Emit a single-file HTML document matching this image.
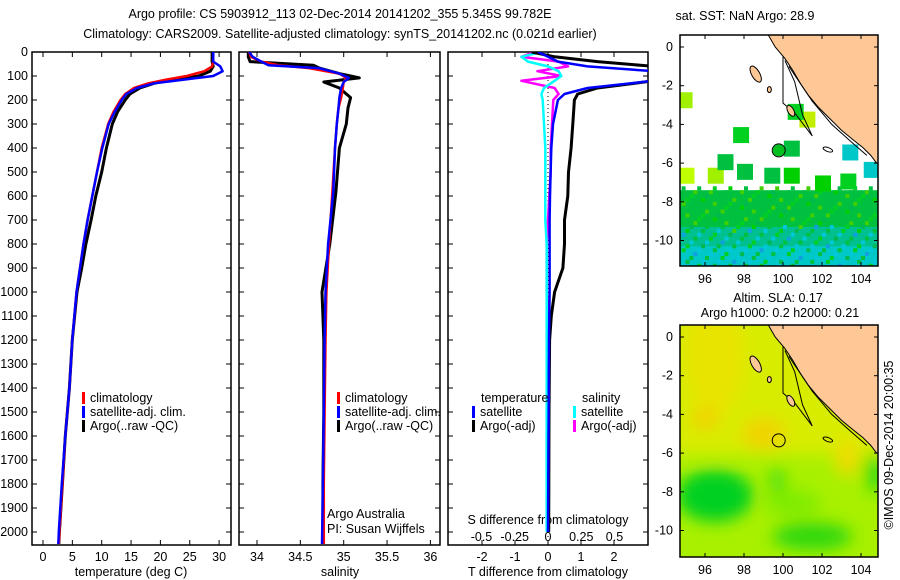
<!DOCTYPE html>
<html><head><meta charset="utf-8"><style>
body{margin:0;background:#fff;}
svg{display:block;font-family:"Liberation Sans",sans-serif;}
text{font-size:12.5px;fill:#000;}
</style></head><body>
<svg id="c" width="900" height="580" viewBox="0 0 900 580"></svg>
<script>
// ---- data ----
const tDepth=[0,40,60,80,100,115,130,150,175,200,250,300,400,500,600,700,800,900,1000,1200,1400,1600,1800,2000,2050];
const tClim=[29,29,28.8,27.5,24.5,21,18,15.5,14,13.2,12,11.1,10,9.2,8.4,7.6,6.9,6.3,5.7,5,4.5,3.8,3.3,2.8,2.7];
const tSat=[29,29,30.2,30.6,29,24,19,16,14.2,13.4,12.2,11.2,10.1,9.2,8.4,7.6,6.9,6.3,5.7,5,4.5,3.8,3.2,2.7,2.6];
const tArgo=[28.8,28.8,29,28.5,26.5,22,19,16.5,14.8,14,12.7,11.8,10.8,10,9,8.2,7.3,6.6,5.8,5,4.5,3.8,3.3,2.8,2.7];
const sDepth=[0,20,40,55,67,90,108,125,150,190,233,300,400,583,800,1000,1200,1500,1800,2050];
const sClim=[33.91,33.93,34.05,34.25,34.6,34.95,35.03,35.0,34.99,34.97,34.94,34.92,34.9,34.87,34.83,34.8,34.79,34.78,34.77,34.77];
const sSat=[33.91,33.95,34.05,34.13,34.71,34.95,35.06,35.0,34.97,34.95,34.94,34.92,34.9,34.88,34.82,34.79,34.78,34.77,34.76,34.75];
const sArgo=[33.9,33.9,33.92,34.65,34.72,34.95,35.18,34.77,34.95,35.08,35.05,35.03,34.95,34.91,34.84,34.75,34.77,34.77,34.76,34.76];
const dDepth=[0,20,40,60,80,100,120,150,175,200,300,400,500,600,700,800,900,1000,1100,1200,1500,2000];
const dTsat=[-0.3,0,0.3,1.2,3.2,3.2,3.2,1.2,0.5,0.3,0.15,0.1,0.08,0.06,0.05,0.05,0.05,0.05,0.04,0.03,0.02,0.0];
const dTargo=[-0.5,0.2,1.5,3.2,3.2,3.2,3.2,1.5,0.9,0.8,0.75,0.7,0.62,0.6,0.5,0.5,0.45,0.2,0.1,0.05,0.03,0.02];
const dSsat=[-0.05,-0.2,-0.15,0.0,0.08,0.1,0.05,-0.03,-0.05,-0.04,-0.03,-0.02,-0.02,-0.02,-0.02,-0.01,-0.01,-0.01,-0.01,-0.01,-0.01,-0.01];
const dSargo=[-0.1,-0.2,0.08,0.15,-0.08,0.1,-0.2,0.05,0.08,0.04,0.03,0.02,0.02,0.01,0.0,-0.01,-0.01,-0.01,0,0,-0.01,-0.01];
const depthTicks=[0,100,200,300,400,500,600,700,800,900,1000,1100,1200,1300,1400,1500,1600,1700,1800,1900,2000];
const tTicks=[0,5,10,15,20,25,30];
const sTicks=[34,34.5,35,35.5,36];
const dtTicks=[-2,-1,0,1,2];
const dsTicks=[-0.5,-0.25,0,0.25,0.5];
const latTicks=[0,-2,-4,-6,-8,-10];
const lonTicks=[96,98,100,102,104];
// ---- helpers ----
const svg=document.getElementById('c');const NS='http://www.w3.org/2000/svg';
function el(t,a,p){const e=document.createElementNS(NS,t);for(const k in a)e.setAttribute(k,a[k]);(p||svg).appendChild(e);return e;}
function tx(x,y,s,anchor,p){const e=el('text',{x:x,y:y,'text-anchor':anchor||'middle'},p);e.textContent=s;return e;}
const yD=d=>52+d*0.24;
const xT=v=>43+v*5.87;
const xS=v=>257+(v-34)*86.7;
const xDT=v=>548+v*33;
const xDS=v=>548+v*133;
const P1={x0:32,x1:231},P2={x0:239,x1:440},P3={x0:448,x1:648},PY0=52,PY1=545;
let t=tx(340,18,'Argo profile: CS 5903912_113 02-Dec-2014 20141202_355 5.345S 99.782E');

t=tx(340,38,'Climatology: CARS2009. Satellite-adjusted climatology: synTS_20141202.nc (0.021d earlier)');

const defs=el('defs',{});
[P1,P2,P3].forEach((p,i)=>{const c=el('clipPath',{id:'cp'+i},defs);el('rect',{x:p.x0,y:PY0,width:p.x1-p.x0,height:PY1-PY0},c);});
function panel(p,name,xticks,xf,xlabels){
  const g=el('g',{});
  depthTicks.forEach(d=>{el('line',{x1:p.x0,x2:p.x0+5,y1:yD(d),y2:yD(d),stroke:'#000'},g);el('line',{x1:p.x1-5,x2:p.x1,y1:yD(d),y2:yD(d),stroke:'#000'},g);});
  xticks.forEach(v=>{el('line',{x1:xf(v),x2:xf(v),y1:PY1,y2:PY1-5,stroke:'#000'},g);el('line',{x1:xf(v),x2:xf(v),y1:PY0,y2:PY0+5,stroke:'#000'},g);
    if(xlabels){const tt=tx(xf(v),561,String(v),'middle',g);}});
  el('rect',{x:p.x0,y:PY0,width:p.x1-p.x0,height:PY1-PY0,fill:'none',stroke:'#000','stroke-width':1.5},g);
  return g;
}
function line(xs,ds,xf,color,w,ci,name){
  const pts=xs.map((v,i)=>xf(v).toFixed(1)+','+yD(ds[i]).toFixed(1)).join(' ');
  const e=el('polyline',{points:pts,fill:'none',stroke:color,'stroke-width':w,'clip-path':'url(#cp'+ci+')','stroke-linejoin':'round'});
  
}
panel(P1,'temperature-panel',tTicks,xT,true);
depthTicks.forEach(d=>{const tt=tx(28,yD(d)+4,String(d),'end');});
line(tArgo,tDepth,xT,'#000',3,0,'temp-argo-line');
line(tClim,tDepth,xT,'#f00',2.5,0,'temp-climatology-line');
line(tSat,tDepth,xT,'#00f',2.5,0,'temp-satellite-line');
t=tx(131,576,'temperature (deg C)');
panel(P2,'salinity-panel',sTicks,xS,true);
line(sArgo,sDepth,xS,'#000',3,1,'salinity-argo-line');
line(sClim,sDepth,xS,'#f00',2.5,1,'salinity-climatology-line');
line(sSat,sDepth,xS,'#00f',2.5,1,'salinity-satellite-line');
t=tx(340,576,'salinity');
t=tx(327,518,'Argo Australia','start');
t=tx(327,533,'PI: Susan Wijffels','start');
panel(P3,'difference-panel',dtTicks,xDT,true);
dsTicks.forEach(v=>{const tt=tx(xDS(v),541,(v<0?'-':'')+String(Math.abs(v)),'middle');});
t=tx(548,524,'S difference from climatology');
el('line',{x1:548,x2:548,y1:PY0,y2:PY1,stroke:'#000','stroke-dasharray':'1,3'});
line(dSargo,dDepth,xDS,'#f0f',2.5,2,'s-diff-argo-line');
line(dSsat,dDepth,xDS,'#0ff',2.5,2,'s-diff-satellite-line');
line(dTargo,dDepth,xDT,'#000',3,2,'t-diff-argo-line');
line(dTsat,dDepth,xDT,'#00f',2.5,2,'t-diff-satellite-line');
t=tx(548,576,'T difference from climatology');
function leg(x,y,c,s,name){const g=el('g',{});
  el('rect',{x:x,y:y-10,width:3,height:12,fill:c},g);tx(x+8,y,s,'start',g);}
leg(82,402,'#f00','climatology','legend-climatology');
leg(82,416,'#00f','satellite-adj. clim.','legend-satellite');
leg(82,430,'#000','Argo(..raw -QC)','legend-argo');
leg(337,402,'#f00','climatology','legend2-climatology');
leg(337,416,'#00f','satellite-adj. clim.','legend2-satellite');
leg(337,430,'#000','Argo(..raw -QC)','legend2-argo');
t=tx(481,402,'temperature','start');
t=tx(582,402,'salinity','start');
leg(472,416,'#00f','satellite','legend-t-satellite');
leg(472,430,'#000','Argo(-adj)','legend-t-argo');
leg(573,416,'#0ff','satellite','legend-s-satellite');
leg(573,430,'#f0f','Argo(-adj)','legend-s-argo');
// ---- maps ----
function map(y0,y1,lat0y,name,bg){
  const M={x0:680,x1:878,y0:y0,y1:y1};
  const lx=l=>705+(l-96)*19.5, ly=l=>lat0y-l*19.35;
  const g=el('g',{});
  const cid='cm'+y0;const c=el('clipPath',{id:cid},defs);el('rect',{x:M.x0,y:M.y0,width:M.x1-M.x0,height:M.y1-M.y0},c);
  const inner=el('g',{'clip-path':'url(#'+cid+')'},g);
  bg(inner,lx,ly);
  const land=[[99.2,0.7],[99.6,0.0],[100.1,-0.6],[100.5,-1.2],[100.9,-1.9],[101.3,-2.5],[101.8,-3.1],[102.4,-3.7],[103.0,-4.3],[103.6,-4.8],[104.1,-5.2],[104.5,-5.6],[104.8,-6.0],[105.2,-6.0],[105.2,0.7]];
  el('polygon',{points:land.map(p=>lx(p[0])+','+ly(p[1])).join(' '),fill:'#fdc896',stroke:'#000','stroke-width':1},inner);
  el('polyline',{points:[[100.0,-0.5],[100.0,-2.9],[100.6,-3.4],[101.2,-4.2],[101.5,-4.6],[101.0,-3.5],[100.6,-1.8],[100.1,-0.7]].map(p=>lx(p[0])+','+ly(p[1])).join(' '),fill:'none',stroke:'#000','stroke-width':1},inner);
  el('polyline',{points:[[100.3,-1.0],[101.5,-2.8],[102.5,-4.0],[103.5,-4.9],[104.3,-5.6]].map(p=>lx(p[0])+','+ly(p[1])).join(' '),fill:'none',stroke:'#000','stroke-width':1},inner);
  el('ellipse',{cx:lx(98.6),cy:ly(-1.4),rx:4,ry:9,fill:'#fdc896',stroke:'#000',transform:'rotate(-30 '+lx(98.6)+' '+ly(-1.4)+')'},inner);
  el('ellipse',{cx:lx(99.3),cy:ly(-2.2),rx:2,ry:3,fill:'#fdc896',stroke:'#000'},inner);
  el('ellipse',{cx:lx(100.4),cy:ly(-3.3),rx:3,ry:6,fill:'#fdc896',stroke:'#000',transform:'rotate(-30 '+lx(100.4)+' '+ly(-3.3)+')'},inner);
  el('ellipse',{cx:lx(102.3),cy:ly(-5.3),rx:5,ry:2,fill:'none',stroke:'#000',transform:'rotate(20 '+lx(102.3)+' '+ly(-5.3)+')'},inner);
  el('circle',{cx:lx(99.78),cy:ly(-5.345),r:6.5,fill:'none',stroke:'#000','stroke-width':1},inner);
  el('rect',{x:M.x0,y:M.y0,width:M.x1-M.x0,height:M.y1-M.y0,fill:'none',stroke:'#000','stroke-width':1.5},g);
  latTicks.forEach(l=>{el('line',{x1:M.x0,x2:M.x0+4,y1:ly(l),y2:ly(l),stroke:'#000'},g);el('line',{x1:M.x1-4,x2:M.x1,y1:ly(l),y2:ly(l),stroke:'#000'},g);
    const tt=tx(M.x0-7,ly(l)+4,String(l),'end',g);});
  lonTicks.forEach(l=>{el('line',{x1:lx(l),x2:lx(l),y1:M.y1,y2:M.y1-4,stroke:'#000'},g);el('line',{x1:lx(l),x2:lx(l),y1:M.y0,y2:M.y0+4,stroke:'#000'},g);
    const tt=tx(lx(l),M.y1+17,String(l),'middle',g);});
}
map(35,266,47,'sst-map',(g,lx,ly)=>{
  el('rect',{x:680,y:35,width:200,height:240,fill:'#fff'},g);
  el('rect',{x:680,y:ly(-7.4),width:200,height:80,fill:'#00c040'},g);
  el('rect',{x:680,y:ly(-9.3),width:200,height:40,fill:'#00c090'},g);
  el('rect',{x:680,y:ly(-10.3),width:200,height:30,fill:'#00c8c8'},g);
  const pal=['#00c040','#00d000','#00b850','#20c8b0','#00c8d8','#10a0e0','#00d020','#40d000'];
  const pat='0162037145260317425063';
  for(let r=0;r<22;r++)for(let cc=0;cc<50;cc++){
    const lat=-7.2-r*0.2, lon=94.8+cc*0.2;
    const k=parseInt(pat[(r*7+cc*3)%pat.length]);
    let idx=k; if(r<10&&idx>=3&&idx<=5) idx=(idx+3)%8; if(r>=12&&(idx===1||idx===7)) idx=4;
    if((r*13+cc*5)%4===0) el('rect',{x:lx(lon),y:ly(lat),width:4,height:4,fill:pal[idx]},g);
  }
  [[95,-6.6,'#c0ff00'],[96.5,-6.6,'#a0f000'],[98,-6.4,'#00c040'],[99.4,-6.6,'#00c040'],[100.4,-6.6,'#00d000'],[97.8,-4.5,'#00d020'],[97,-5.9,'#00c040'],[100.4,-5.2,'#00c040'],[101.2,-3.7,'#c0f000'],[100.6,-3.3,'#00d020'],[102,-7,'#00d000'],[103.3,-6.9,'#00d020'],[104.5,-6.3,'#00c8c8'],[103.4,-5.4,'#00c8c8'],[94.9,-2.7,'#a0f000']].forEach(s=>el('rect',{x:lx(s[0])-7,y:ly(s[1])-7,width:16,height:16,fill:s[2]},g));
  el('circle',{cx:lx(99.78),cy:ly(-5.345),r:6,fill:'#00c020'},g);
});
map(325,557,337,'sla-map',(g,lx,ly)=>{
  const f=el('filter',{id:'bl'},defs);el('feGaussianBlur',{stdDeviation:8},f);
  el('rect',{x:680,y:325,width:200,height:240,fill:'#a8f000'},g);
  const b=el('g',{filter:'url(#bl)'},g);
  el('rect',{x:670,y:315,width:220,height:140,fill:'#d8ec00'},b);
  el('ellipse',{cx:lx(96.5),cy:ly(-1),rx:30,ry:60,fill:'#e8e400'},b);
  el('ellipse',{cx:lx(99),cy:ly(-5),rx:22,ry:16,fill:'#f0d400'},b);
  el('ellipse',{cx:lx(96),cy:ly(-4.2),rx:14,ry:12,fill:'#f0d400'},b);
  el('ellipse',{cx:lx(103.3),cy:ly(-6.3),rx:12,ry:18,fill:'#f0dc00'},b);
  el('ellipse',{cx:lx(96.5),cy:ly(-8.2),rx:38,ry:26,fill:'#00d020'},b);
  el('ellipse',{cx:lx(101.5),cy:ly(-10.3),rx:40,ry:14,fill:'#30d810'},b);
  el('ellipse',{cx:lx(100.5),cy:ly(-8.6),rx:28,ry:14,fill:'#80ec00'},b);
  el('ellipse',{cx:lx(99.7),cy:ly(-7.4),rx:8,ry:14,fill:'#50e010'},b);
  el('ellipse',{cx:lx(104.7),cy:ly(-7),rx:8,ry:20,fill:'#20d810'},b);
  el('ellipse',{cx:lx(104),cy:ly(0),rx:14,ry:10,fill:'#40e000'},b);
});
t=tx(745,20,'sat. SST: NaN Argo: 28.9');
t=tx(778,302,'Altim. SLA: 0.17');
t=tx(780,317,'Argo h1000: 0.2 h2000: 0.21');
t=tx(0,0,'\u00a9IMOS 09-Dec-2014 20:00:35');t.setAttribute('transform','translate(893,445) rotate(-90)');

</script>
</body></html>
